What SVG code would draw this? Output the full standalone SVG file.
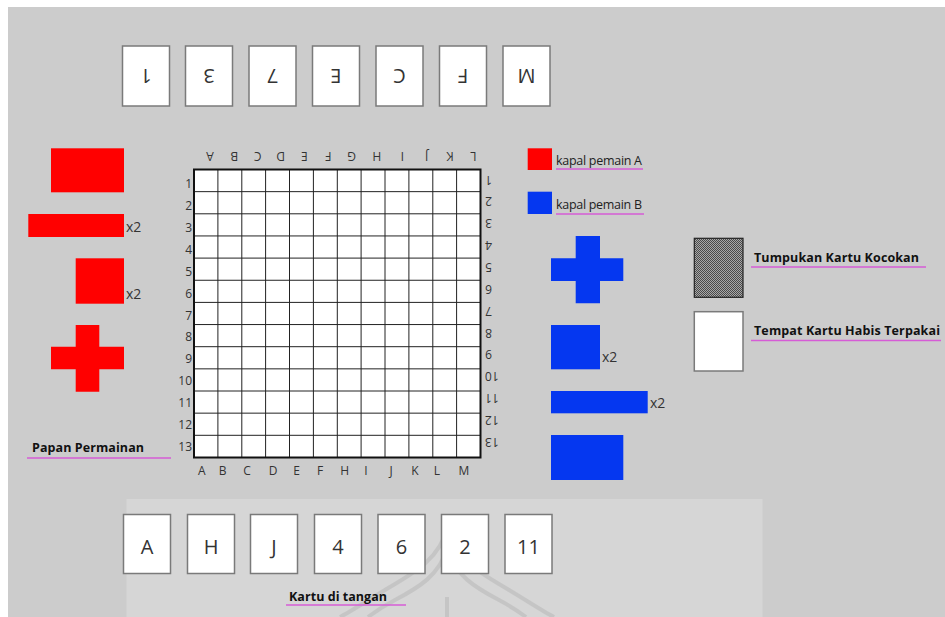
<svg xmlns="http://www.w3.org/2000/svg" width="945" height="617" viewBox="0 0 945 617">
<defs>
<pattern id="dots" width="2" height="2" patternUnits="userSpaceOnUse">
<rect width="2" height="2" fill="#a8a8a8"/>
<rect width="1" height="1" fill="#4a4a4a"/>
<rect x="1" y="1" width="1" height="1" fill="#4a4a4a"/>
</pattern>
</defs>
<style>
.card{fill:#fff;stroke:#7a7a7a;stroke-width:1.5}
.ct{font-family:"Open Sans","Liberation Sans",sans-serif;font-size:20px;fill:#333;text-anchor:middle;dominant-baseline:central}
.lbl{font-family:"Open Sans","Liberation Sans",sans-serif;font-size:12px;fill:#333;dominant-baseline:central}
.red{fill:#ff0000}
.blue{fill:#0537f0}
.x2{font-family:"Open Sans","Liberation Sans",sans-serif;font-size:14px;fill:#333}
.t{font-family:"Open Sans","Liberation Sans",sans-serif;font-size:12.5px;fill:#222}
.tb{font-family:"Open Sans","Liberation Sans",sans-serif;font-size:12.5px;font-weight:bold;fill:#111}
.ul{stroke:#d65cd6;stroke-width:1.5}
.gl{stroke:#222;stroke-width:1}
</style>
<rect x="0" y="0" width="945" height="617" fill="#fff"/>
<rect x="8" y="7" width="937" height="610" fill="#cccccc"/>
<rect x="126.5" y="499" width="636" height="118" fill="#d6d6d6"/>
<g id="watermark" fill="none" stroke="#c2c2c2" stroke-width="4" opacity="0.8">
<path d="M447 528 C440 560 410 575 385 590 C365 602 350 612 340 617"/>
<path d="M447 528 C454 560 484 575 509 590 C529 602 544 612 554 617"/>
<path d="M447 548 C440 575 418 588 395 600 C380 608 372 614 368 617"/>
<path d="M447 548 C454 575 476 588 499 600 C514 608 522 614 526 617"/>
<path d="M447 597 L447 617"/>
</g>

<g id="top-cards">
<g id="tc1"><rect class="card" x="122.5" y="46" width="47" height="60"/><text class="ct" x="146" y="76" transform="rotate(180 146 76)">1</text></g>
<g id="tc2"><rect class="card" x="185.5" y="46" width="47" height="60"/><text class="ct" x="209" y="76" transform="rotate(180 209 76)">3</text></g>
<g id="tc3"><rect class="card" x="249" y="46" width="47" height="60"/><text class="ct" x="272.5" y="76" transform="rotate(180 272.5 76)">7</text></g>
<g id="tc4"><rect class="card" x="312.5" y="46" width="47" height="60"/><text class="ct" x="336" y="76" transform="rotate(180 336 76)">E</text></g>
<g id="tc5"><rect class="card" x="376" y="46" width="47" height="60"/><text class="ct" x="399.5" y="76" transform="rotate(180 399.5 76)">C</text></g>
<g id="tc6"><rect class="card" x="439.5" y="46" width="47" height="60"/><text class="ct" x="463" y="76" transform="rotate(180 463 76)">F</text></g>
<g id="tc7"><rect class="card" x="503" y="46" width="47" height="60"/><text class="ct" x="526.5" y="76" transform="rotate(180 526.5 76)">M</text></g>
</g>

<g id="bottom-cards">
<g id="bc1"><rect class="card" x="123.5" y="514.5" width="47" height="59"/><text class="ct" x="147" y="546">A</text></g>
<g id="bc2"><rect class="card" x="187.5" y="514.5" width="47" height="59"/><text class="ct" x="211" y="546">H</text></g>
<g id="bc3"><rect class="card" x="250.5" y="514.5" width="47" height="59"/><text class="ct" x="274" y="546">J</text></g>
<g id="bc4"><rect class="card" x="314.5" y="514.5" width="47" height="59"/><text class="ct" x="338" y="546">4</text></g>
<g id="bc5"><rect class="card" x="378" y="514.5" width="47" height="59"/><text class="ct" x="401.5" y="546">6</text></g>
<g id="bc6"><rect class="card" x="441.5" y="514.5" width="47" height="59"/><text class="ct" x="465" y="546">2</text></g>
<g id="bc7"><rect class="card" x="505" y="514.5" width="47" height="59"/><text class="ct" x="528.5" y="546">11</text></g>
<g id="hand-label"><text class="tb" x="289" y="601" textLength="98">Kartu di tangan</text><line class="ul" x1="286" y1="605" x2="406" y2="605"/></g>
</g>

<g id="board">
<rect x="194" y="169.5" width="286.5" height="288" fill="#fff"/>
<g class="gl">
<line x1="217.9" y1="169.5" x2="217.9" y2="457.5"/><line x1="241.8" y1="169.5" x2="241.8" y2="457.5"/><line x1="265.6" y1="169.5" x2="265.6" y2="457.5"/><line x1="289.5" y1="169.5" x2="289.5" y2="457.5"/><line x1="313.4" y1="169.5" x2="313.4" y2="457.5"/><line x1="337.3" y1="169.5" x2="337.3" y2="457.5"/><line x1="361.1" y1="169.5" x2="361.1" y2="457.5"/><line x1="385" y1="169.5" x2="385" y2="457.5"/><line x1="408.9" y1="169.5" x2="408.9" y2="457.5"/><line x1="432.8" y1="169.5" x2="432.8" y2="457.5"/><line x1="456.6" y1="169.5" x2="456.6" y2="457.5"/>
<line x1="194" y1="191.65" x2="480.5" y2="191.65"/><line x1="194" y1="213.8" x2="480.5" y2="213.8"/><line x1="194" y1="235.95" x2="480.5" y2="235.95"/><line x1="194" y1="258.1" x2="480.5" y2="258.1"/><line x1="194" y1="280.25" x2="480.5" y2="280.25"/><line x1="194" y1="302.4" x2="480.5" y2="302.4"/><line x1="194" y1="324.55" x2="480.5" y2="324.55"/><line x1="194" y1="346.7" x2="480.5" y2="346.7"/><line x1="194" y1="368.85" x2="480.5" y2="368.85"/><line x1="194" y1="391" x2="480.5" y2="391"/><line x1="194" y1="413.15" x2="480.5" y2="413.15"/><line x1="194" y1="435.3" x2="480.5" y2="435.3"/>
</g>
<rect x="194" y="169.5" width="286.5" height="288" fill="none" stroke="#111" stroke-width="2"/>
<g id="top-letters" class="lbl" text-anchor="middle">
<text x="210" y="156" transform="rotate(180 210 156)">A</text>
<text x="234.3" y="156" transform="rotate(180 234.3 156)">B</text>
<text x="257.7" y="156" transform="rotate(180 257.7 156)">C</text>
<text x="280.7" y="156" transform="rotate(180 280.7 156)">D</text>
<text x="304.3" y="156" transform="rotate(180 304.3 156)">E</text>
<text x="328.3" y="156" transform="rotate(180 328.3 156)">F</text>
<text x="351.7" y="156" transform="rotate(180 351.7 156)">G</text>
<text x="376.7" y="156" transform="rotate(180 376.7 156)">H</text>
<text x="402.3" y="156" transform="rotate(180 402.3 156)">I</text>
<text x="426.7" y="156" transform="rotate(180 426.7 156)">J</text>
<text x="450" y="156" transform="rotate(180 450 156)">K</text>
<text x="473.3" y="156" transform="rotate(180 473.3 156)">L</text>
</g>
<g id="bottom-letters" class="lbl" text-anchor="middle">
<text x="201.7" y="470">A</text><text x="222.7" y="470">B</text><text x="247" y="470">C</text><text x="273" y="470">D</text><text x="296.7" y="470">E</text><text x="320" y="470">F</text><text x="344.7" y="470">H</text><text x="366" y="470">I</text><text x="391" y="470">J</text><text x="415" y="470">K</text><text x="437" y="470">L</text><text x="464" y="470">M</text>
</g>
<g id="left-numbers" class="lbl" text-anchor="end">
<text x="192" y="183.3">1</text><text x="192" y="205.2">2</text><text x="192" y="227.2">3</text><text x="192" y="249.1">4</text><text x="192" y="271.1">5</text><text x="192" y="293">6</text><text x="192" y="315">7</text><text x="192" y="336.9">8</text><text x="192" y="358.9">9</text><text x="192" y="380.8">10</text><text x="192" y="402.8">11</text><text x="192" y="424.7">12</text><text x="192" y="446.7">13</text>
</g>
<g id="right-numbers" class="lbl" text-anchor="end">
<text x="485" y="180" transform="rotate(180 485 180)">1</text>
<text x="485" y="201.8" transform="rotate(180 485 201.8)">2</text>
<text x="485" y="223.7" transform="rotate(180 485 223.7)">3</text>
<text x="485" y="245.5" transform="rotate(180 485 245.5)">4</text>
<text x="485" y="267.4" transform="rotate(180 485 267.4)">5</text>
<text x="485" y="289.2" transform="rotate(180 485 289.2)">6</text>
<text x="485" y="311.1" transform="rotate(180 485 311.1)">7</text>
<text x="485" y="333" transform="rotate(180 485 333)">8</text>
<text x="485" y="354.8" transform="rotate(180 485 354.8)">9</text>
<text x="485" y="376.7" transform="rotate(180 485 376.7)">10</text>
<text x="485" y="398.5" transform="rotate(180 485 398.5)">11</text>
<text x="485" y="420.4" transform="rotate(180 485 420.4)">12</text>
<text x="485" y="442.2" transform="rotate(180 485 442.2)">13</text>
</g>
<g id="board-label"><text class="tb" x="32" y="452" textLength="112">Papan Permainan</text><line class="ul" x1="27" y1="458" x2="171" y2="458"/></g>
</g>

<g id="red-ships">
<rect class="red" x="51" y="148.3" width="73" height="44"/>
<rect class="red" x="28.3" y="214" width="95.7" height="23"/>
<text class="x2" x="126" y="232">x2</text>
<rect class="red" x="75.7" y="258.3" width="48.3" height="45.4"/>
<text class="x2" x="126" y="299">x2</text>
<path class="red" d="M75.7 325 H99.3 V346.7 H124 V369.3 H99.3 V391.7 H75.7 V369.3 H51 V346.7 H75.7 Z"/>
</g>

<g id="blue-ships">
<path class="blue" d="M575.7 236 H600 V258.3 H623.3 V281 H600 V303.3 H575.7 V281 H551 V258.3 H575.7 Z"/>
<rect class="blue" x="551" y="325" width="49" height="44.3"/>
<text class="x2" x="602" y="362">x2</text>
<rect class="blue" x="551" y="391" width="96.7" height="22.3"/>
<text class="x2" x="650" y="408">x2</text>
<rect class="blue" x="551" y="435" width="72.3" height="45"/>
</g>

<g id="legend">
<rect class="red" x="527.7" y="148.3" width="24.3" height="21.7"/>
<text class="t" x="556" y="165" textLength="86">kapal pemain A</text>
<line class="ul" x1="556" y1="169" x2="643" y2="169"/>
<rect class="blue" x="527.7" y="191.7" width="24.3" height="22.3"/>
<text class="t" x="556" y="209" textLength="86">kapal pemain B</text>
<line class="ul" x1="556" y1="214" x2="644" y2="214"/>
</g>

<g id="deck">
<rect x="694.3" y="238.3" width="48.7" height="59" fill="url(#dots)" stroke="#222" stroke-width="1.2"/>
<text class="tb" x="754" y="262" textLength="165">Tumpukan Kartu Kocokan</text>
<line class="ul" x1="751" y1="267" x2="926" y2="267"/>
</g>
<g id="discard">
<rect class="card" x="694.3" y="311.7" width="48.7" height="59.3"/>
<text class="tb" x="754" y="335" textLength="186">Tempat Kartu Habis Terpakai</text>
<line class="ul" x1="751" y1="340.5" x2="941" y2="340.5"/>
</g>
</svg>
